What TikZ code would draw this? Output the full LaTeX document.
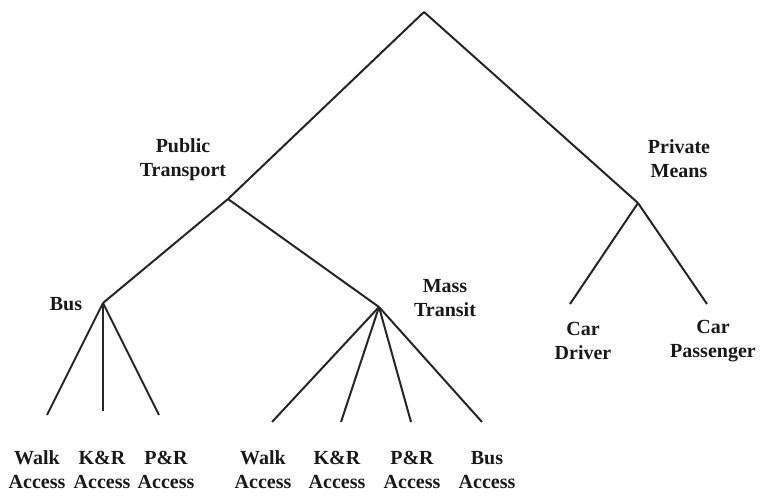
\documentclass[tikz,border=0pt]{standalone}
\usepackage{fontspec}
\setmainfont{Liberation Serif}
\begin{document}
\begin{tikzpicture}[x=0.5pt,y=-0.5pt,
  branch/.style={draw=black!85, line width=1pt},
  lbl/.style={font=\bfseries\fontsize{10}{12}\selectfont, align=center, inner sep=0pt, text=black!90}]
\useasboundingbox (0,0) rectangle (760,496);

% junction points of the tree
\coordinate (root) at (424,12);
\coordinate (pt) at (228,199);
\coordinate (pm) at (638,203);
\coordinate (bus) at (103,303);
\coordinate (mt) at (379,307);

% free ends of the lowest branches
\coordinate (bwe) at (47,415);
\coordinate (bke) at (103,411);
\coordinate (bpe) at (159,415);
\coordinate (mwe) at (272,422);
\coordinate (mke) at (341,422);
\coordinate (mpe) at (411,422);
\coordinate (mbe) at (482,422);
\coordinate (cde) at (570,304);
\coordinate (cpe) at (707,304);

% branches
\draw[branch] (root) -- (pt);
\draw[branch] (root) -- (pm);
\draw[branch] (pt) -- (bus);
\draw[branch] (pt) -- (mt);
\draw[branch] (bus) -- (bwe);
\draw[branch] (bus) -- (bke);
\draw[branch] (bus) -- (bpe);
\draw[branch] (mt) -- (mwe);
\draw[branch] (mt) -- (mke);
\draw[branch] (mt) -- (mpe);
\draw[branch] (mt) -- (mbe);
\draw[branch] (pm) -- (cde);
\draw[branch] (pm) -- (cpe);

% labels
\node[lbl] (ptl) at (183,160) {Public\\Transport};
\node[lbl] (pml) at (679,159) {Private\\Means};
\node[lbl] (busl) at (66,304) {Bus};
\node[lbl] (mtl) at (445,298) {Mass\\Transit};
\node[lbl] (bw) at (37,470) {Walk\\Access};
\node[lbl] (bk) at (102,470) {K\&R\\Access};
\node[lbl] (bp) at (166,470) {P\&R\\Access};
\node[lbl] (mw) at (263,470) {Walk\\Access};
\node[lbl] (mk) at (337,470) {K\&R\\Access};
\node[lbl] (mp) at (412,470) {P\&R\\Access};
\node[lbl] (mb) at (487,470) {Bus\\Access};
\node[lbl] (cd) at (583,341) {Car\\Driver};
\node[lbl] (cp) at (713,341) {Car\\Passenger};
\end{tikzpicture}
\end{document}
